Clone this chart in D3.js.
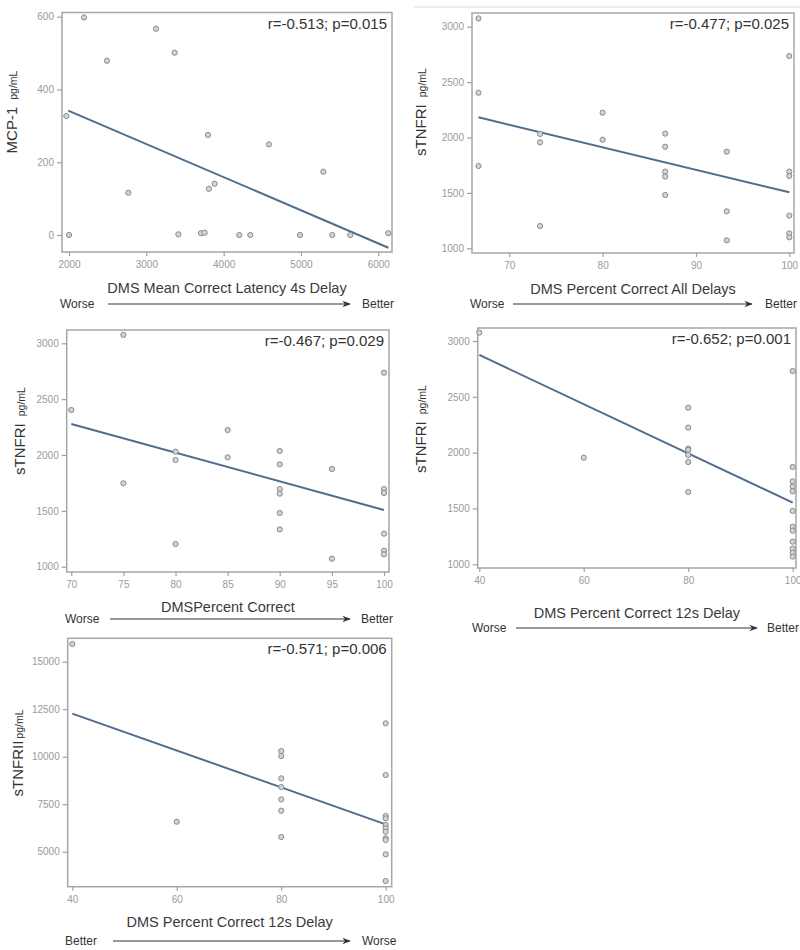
<!DOCTYPE html>
<html>
<head>
<meta charset="utf-8">
<script src="https://cdn.jsdelivr.net/npm/d3@7"></script>
<style>
  body { margin: 0; background: #fff; }
  svg { display: block; font-family: "Liberation Sans", Arial, sans-serif; }
</style>
</head>
<body>
<svg id="chart" width="800" height="950"></svg>
<script>
// ---------- DATA ----------
// Panel 1: MCP-1 vs DMS Mean Correct Latency 4s Delay
const p1X = [1966, 2000, 2194, 2491, 2767, 3125, 3366, 3414, 3707, 3754, 3797, 3810, 3883, 4202, 4345, 4586, 4987, 5289, 5405, 5638, 6129];
const p1Y = [327, 0, 598, 479, 116, 567, 501, 2, 5, 6, 275, 127, 141, 0, 0, 249, 0, 174, 0, 0, 5];
const p1Fit = [[1990, 342], [6130, -35]];
const p1XTicks = [2000, 3000, 4000, 5000, 6000];
const p1YTicks = [0, 200, 400, 600];

// Panel 2: sTNFRI vs DMS Percent Correct All Delays
const p2X = [66.7, 66.7, 66.7, 73.3, 73.3, 73.3, 80, 80, 86.7, 86.7, 86.7, 86.7, 86.7, 93.3, 93.3, 93.3, 100, 100, 100, 100, 100, 100];
const p2Y = [3075, 2404, 1743, 2032, 1956, 1201, 2224, 1980, 2035, 1917, 1692, 1647, 1481, 1872, 1334, 1072, 2735, 1692, 1653, 1295, 1135, 1099];
const p2Fit = [[66.7, 2182], [100, 1505]];
const p2XTicks = [70, 80, 90, 100];
const p2YTicks = [1000, 1500, 2000, 2500, 3000];

// Panel 3: sTNFRI vs DMSPercent Correct
const p3X = [70, 75, 75, 80, 80, 80, 85, 85, 90, 90, 90, 90, 90, 90, 95, 95, 100, 100, 100, 100, 100, 100];
const p3Y = [2403, 3075, 1746, 2030, 1955, 1203, 2224, 1979, 2036, 1916, 1695, 1654, 1481, 1334, 1875, 1072, 2737, 1695, 1660, 1296, 1143, 1110];
const p3Fit = [[70, 2278], [100, 1507]];
const p3XTicks = [70, 75, 80, 85, 90, 95, 100];
const p3YTicks = [1000, 1500, 2000, 2500, 3000];

// Panel 4: sTNFRI vs DMS Percent Correct 12s Delay
const p4X = [40, 60, 80, 80, 80, 80, 80, 80, 80, 100, 100, 100, 100, 100, 100, 100, 100, 100, 100, 100, 100];
const p4Y = [3075, 1955, 2403, 2224, 2036, 2024, 1979, 1916, 1648, 2731, 1872, 1743, 1695, 1654, 1478, 1337, 1301, 1203, 1140, 1104, 1069];
const p4Fit = [[40, 2875], [100, 1552]];
const p4XTicks = [40, 60, 80, 100];
const p4YTicks = [1000, 1500, 2000, 2500, 3000];

// Panel 5: sTNFRII vs DMS Percent Correct 12s Delay
const p5X = [40, 60, 80, 80, 80, 80, 80, 80, 80, 100, 100, 100, 100, 100, 100, 100, 100, 100, 100, 100];
const p5Y = [15930, 6579, 10298, 10035, 8860, 8404, 7754, 7158, 5772, 11754, 9035, 6877, 6754, 6404, 6228, 6050, 5702, 5614, 4860, 3456];
const p5Fit = [[40, 12270], [100, 6439]];
const p5XTicks = [40, 60, 80, 100];
const p5YTicks = [5000, 7500, 10000, 12500, 15000];

const statsText = ["r=-0.513; p=0.015", "r=-0.477; p=0.025", "r=-0.467; p=0.029", "r=-0.652; p=0.001", "r=-0.571; p=0.006"];
const xTitles = ["DMS Mean Correct Latency 4s Delay", "DMS Percent Correct All Delays", "DMSPercent Correct", "DMS Percent Correct 12s Delay", "DMS Percent Correct 12s Delay"];
const yTitleMain = ["MCP-1", "sTNFRI", "sTNFRI", "sTNFRI", "sTNFRII"];
const yTitleUnit = ["pg/mL", "pg/mL", "pg/mL", "pg/mL", "pg/mL"];
const arrowLeft = ["Worse", "Worse", "Worse", "Worse", "Better"];
const arrowRight = ["Better", "Better", "Better", "Better", "Worse"];

// ---------- LAYOUT ----------
const layout = [
  { frame: [62, 12.5, 392, 252], xd: [2000, 6000], xr: [69, 378.3], yd: [0, 600], yr: [235, 16.7],
    ytx: 17, yty: 112, xTitleY: 293, arrowY: 304, arr: [60, 108, 350, 362] },
  { frame: [472, 13, 794, 253], xd: [70, 100], xr: [509.3, 789.3], yd: [1000, 3000], yr: [248.3, 26.7],
    ytx: 426, yty: 112, xTitleY: 294, arrowY: 304, arr: [470, 513, 752, 765] },
  { frame: [66.7, 330, 389, 572], xd: [70, 100], xr: [71.3, 384], yd: [1000, 3000], yr: [566.7, 343.3],
    ytx: 25, yty: 431, xTitleY: 612, arrowY: 619, arr: [65, 110, 350, 361] },
  { frame: [477.7, 328, 796, 568], xd: [40, 100], xr: [479.3, 792.7], yd: [1000, 3000], yr: [564.3, 341],
    ytx: 426, yty: 429, xTitleY: 618, arrowY: 628, arr: [472, 516, 757, 767] },
  { frame: [67.7, 638.3, 391.7, 886.7], xd: [40, 100], xr: [72.3, 385.7], yd: [5000, 15000], yr: [851.7, 661.7],
    ytx: 23, yty: 753, xTitleY: 927, arrowY: 941, arr: [65, 113, 350, 362] }
];

const panels = [
  { x: p1X, y: p1Y, fit: p1Fit, xt: p1XTicks, yt: p1YTicks },
  { x: p2X, y: p2Y, fit: p2Fit, xt: p2XTicks, yt: p2YTicks },
  { x: p3X, y: p3Y, fit: p3Fit, xt: p3XTicks, yt: p3YTicks },
  { x: p4X, y: p4Y, fit: p4Fit, xt: p4XTicks, yt: p4YTicks },
  { x: p5X, y: p5Y, fit: p5Fit, xt: p5XTicks, yt: p5YTicks }
];

const svg = d3.select("#chart");

// decorative thin rule at top right
svg.append("line").attr("x1", 414).attr("x2", 800).attr("y1", 7).attr("y2", 7)
  .attr("stroke", "#d8d8d8").attr("stroke-width", 1);

const defs = svg.append("defs");
defs.append("marker").attr("id", "arrowhead").attr("viewBox", "0 0 10 10")
  .attr("refX", 9).attr("refY", 5).attr("markerWidth", 7).attr("markerHeight", 7)
  .attr("orient", "auto")
  .append("path").attr("d", "M0,1 L10,5 L0,9 L3,5 Z").attr("fill", "#333");

panels.forEach((p, i) => {
  const L = layout[i];
  const [fl, ft, fr, fb] = L.frame;
  const x = d3.scaleLinear().domain(L.xd).range(L.xr);
  const y = d3.scaleLinear().domain(L.yd).range(L.yr);
  const g = svg.append("g");

  // frame
  g.append("rect").attr("x", fl).attr("y", ft).attr("width", fr - fl).attr("height", fb - ft)
    .attr("fill", "none").attr("stroke", "#a6a6a6").attr("stroke-width", 1.5);

  // axes
  const xAxis = d3.axisBottom(x).tickValues(p.xt).tickSize(4).tickPadding(5).tickFormat(d3.format("d"));
  const gx = g.append("g").attr("transform", `translate(0,${fb})`).call(xAxis);
  const yAxis = d3.axisLeft(y).tickValues(p.yt).tickSize(5).tickPadding(3).tickFormat(d3.format("d"));
  const gy = g.append("g").attr("transform", `translate(${fl},0)`).call(yAxis);
  [gx, gy].forEach(a => {
    a.select(".domain").remove();
    a.selectAll(".tick line").attr("stroke", "#a0a0a0").attr("stroke-width", 1.2);
    a.selectAll(".tick text").attr("fill", "#9a9a9a").attr("font-size", 10)
      .attr("font-family", "'Liberation Sans', Arial, sans-serif");
  });

  // fit line
  const line = d3.line().x(d => x(d[0])).y(d => y(d[1]));
  g.append("path").attr("d", line(p.fit)).attr("fill", "none")
    .attr("stroke", "#4f6e8e").attr("stroke-width", 2);

  // points
  const pts = p.x.map((v, k) => [v, p.y[k]]);
  g.selectAll("circle.pt").data(pts).enter().append("circle")
    .attr("class", "pt")
    .attr("cx", d => x(d[0])).attr("cy", d => y(d[1])).attr("r", 2.6)
    .attr("fill", "#d4d4d4").attr("stroke", "#8a8a8a").attr("stroke-width", 1);

  // stats
  g.append("text").attr("x", fr - 5).attr("y", ft + 16).attr("text-anchor", "end")
    .attr("font-size", 15).attr("fill", "#333").text(statsText[i]);

  // x title
  g.append("text").attr("x", (fl + fr) / 2).attr("y", L.xTitleY).attr("text-anchor", "middle")
    .attr("font-size", 14.5).attr("fill", "#3a3a3a").text(xTitles[i]);

  // y title
  const yt = g.append("text").attr("transform", `translate(${L.ytx},${L.yty}) rotate(-90)`)
    .attr("text-anchor", "middle").attr("fill", "#333");
  yt.append("tspan").attr("font-size", 15).text(yTitleMain[i]);
  yt.append("tspan").attr("font-size", 10.5).attr("dx", i === 4 ? 2 : 7).text(yTitleUnit[i]);

  // worse / better arrow
  const [tl, a0, a1, tr] = L.arr;
  g.append("text").attr("x", tl).attr("y", L.arrowY + 4).attr("font-size", 12).attr("fill", "#333").text(arrowLeft[i]);
  g.append("line").attr("x1", a0).attr("x2", a1).attr("y1", L.arrowY).attr("y2", L.arrowY)
    .attr("stroke", "#333").attr("stroke-width", 1.2).attr("marker-end", "url(#arrowhead)");
  g.append("text").attr("x", tr).attr("y", L.arrowY + 4).attr("font-size", 12).attr("fill", "#333").text(arrowRight[i]);
});
</script>
</body>
</html>
